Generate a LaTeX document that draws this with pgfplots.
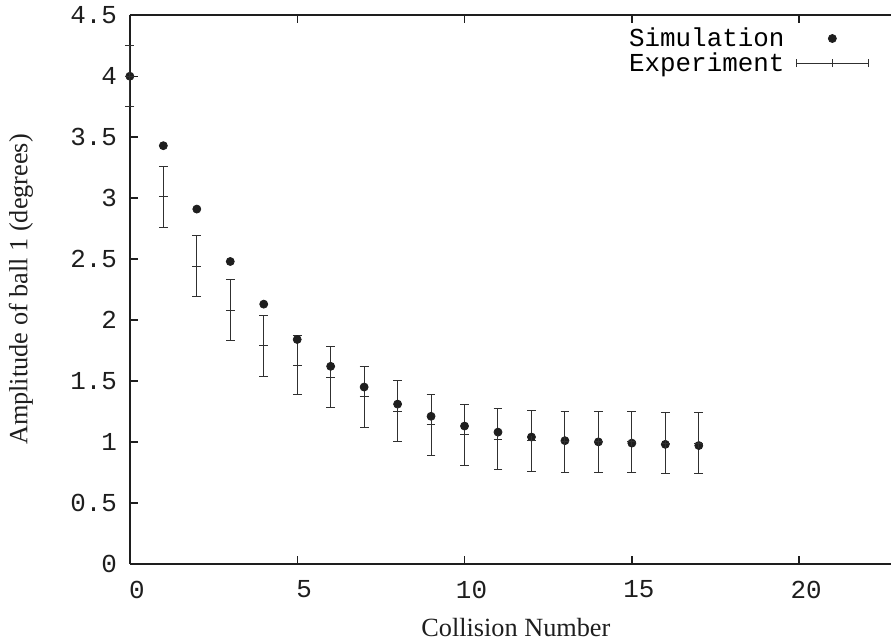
\documentclass[border=0pt]{standalone}
\usepackage{pgfplots}
\pgfplotsset{compat=1.18}
\usepackage{pgfplotstable}
\usepackage{fontspec}
\setmainfont{Liberation Serif}
\setmonofont{Liberation Mono}
\definecolor{ink}{HTML}{1E1E1E}
\definecolor{barc}{HTML}{303030}

\pgfplotstableread{
x sim exp err
0 4.00 4.00 0.25
1 3.43 3.01 0.25
2 2.91 2.44 0.25
3 2.48 2.08 0.25
4 2.13 1.79 0.25
5 1.84 1.63 0.24
6 1.62 1.53 0.25
7 1.45 1.37 0.25
8 1.31 1.25 0.25
9 1.21 1.14 0.25
10 1.13 1.06 0.25
11 1.08 1.02 0.25
12 1.04 1.01 0.25
13 1.01 1.00 0.25
14 1.00 1.00 0.25
15 0.99 1.00 0.25
16 0.98 0.99 0.25
17 0.97 0.99 0.25
}\datatable

\begin{document}
\begin{tikzpicture}
\begin{axis}[
  scale only axis, width=381bp, height=274.5bp,
  xmin=0, xmax=22.75, ymin=0, ymax=4.5,
  axis x line=box, axis y line*=left,
  axis line style={ink, line width=0.8bp},
  xtick={0,5,10,15,20},
  ytick={0,0.5,1,1.5,2,2.5,3,3.5,4,4.5},
  tick align=inside, major tick length=4bp,
  tick style={ink, line width=0.7bp},
  /pgf/number format/assume math mode=true,
  ticklabel style={font=\ttfamily\fontsize{13}{15}\selectfont, text=ink},
  xticklabel style={xshift=3.5bp, yshift=-5bp},
  yticklabel style={xshift=-3bp},
  xlabel={Collision Number}, ylabel={Amplitude of ball 1 (degrees)},
  every axis x label/.style={at={(axis description cs:0.507,-0.1166)}, anchor=center,
    font=\fontsize{13.2}{15}\selectfont, text=ink},
  every axis y label/.style={at={(axis description cs:-0.143,0.5)}, anchor=center, rotate=90,
    font=\fontsize{13.2}{15}\selectfont, text=ink},
  legend cell align=left, legend plot pos=right,
  legend style={draw=none, fill=none, at={(axis description cs:1,1)}, anchor=north east,
    xshift=-11bp, yshift=-4bp, font=\ttfamily\fontsize{13}{15}\selectfont,
    row sep=-2.5bp, inner sep=0pt},
  clip=false,
]
\path (axis description cs:-0.1706,-0.1421) rectangle (axis description cs:1,1.0273);
\addplot[only marks, mark=*, mark size=2bp, color=ink,
  legend image code/.code={\path[draw=none] (0,0) -- (40bp,0); \fill[ink] (22bp,0) circle (2bp);}]
  table[x=x, y=sim] {\datatable};
\addlegendentry{Simulation}
\addplot[only marks, mark=+, mark size=2.2bp, color=barc, mark options={line width=0.5bp},
  error bars/.cd, y dir=both, y explicit,
  error bar style={line width=0.5bp, barc},
  error mark options={rotate=90, mark size=2.2bp, line width=0.5bp, barc},
  /pgfplots/.cd,
  legend image code/.code={\draw[barc, line width=0.5bp] (4bp,0) -- (40bp,0);
     \draw[barc, line width=0.5bp] (4bp,-2bp) -- (4bp,2bp);
     \draw[barc, line width=0.5bp] (40bp,-2bp) -- (40bp,2bp);
     \draw[barc, line width=0.5bp] (22bp,-2bp) -- (22bp,2bp);}]
  table[x=x, y=exp, y error=err] {\datatable};
\addlegendentry{Experiment}
\end{axis}
\end{tikzpicture}
\end{document}
